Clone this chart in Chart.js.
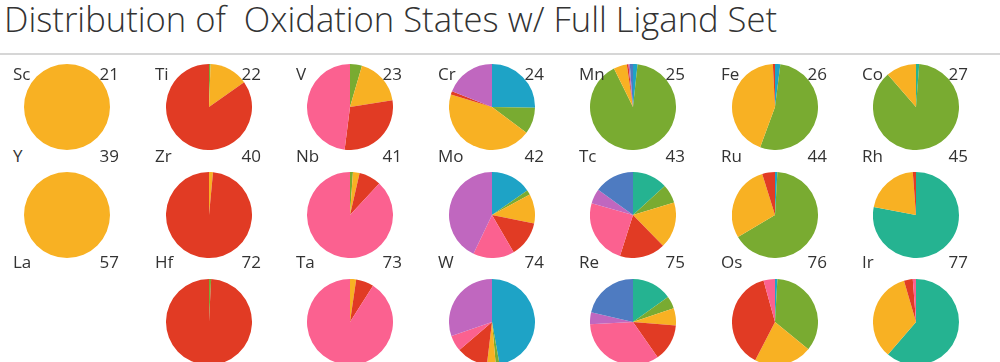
<!DOCTYPE html>
<html>
<head>
<meta charset="utf-8">
<script src="https://cdn.jsdelivr.net/npm/chart.js@4.4.1/dist/chart.umd.min.js"></script>
<style>
  html, body { margin: 0; padding: 0; background: #fff; }
  body { width: 1000px; height: 362px; overflow: hidden; position: relative; font-family: "Open Sans", "Noto Sans", sans-serif; color: #333; }
  #titulo { position: absolute; left: 4px; top: -5px; font-size: 34.6px; font-weight: 300; white-space: pre; color: #333; }
  #linha { position: absolute; left: 0; top: 53px; width: 1000px; height: 2px; background: #d6d6d6; }
  .celula { position: absolute; width: 86px; height: 86px; }
  .rotulo { position: absolute; font-size: 17px; line-height: 20px; white-space: nowrap; z-index: 2; color: #333; }
</style>
</head>
<body>
<div id="titulo">Distribution of  Oxidation States w/ Full Ligand Set</div>
<div id="linha"></div>
<script>
// elementos na ordem da grade (7 colunas x 3 linhas)
const elementos = ['Sc','Ti','V','Cr','Mn','Fe','Co', 'Y','Zr','Nb','Mo','Tc','Ru','Rh', 'La','Hf','Ta','W','Re','Os','Ir'];
const numeros = [21,22,23,24,25,26,27, 39,40,41,42,43,44,45, 57,72,73,74,75,76,77];

// estados de oxidacao, na ordem em que aparecem (sentido horario a partir do topo)
const estados = ['0','+1','+2','+3','+4','+5','+6','+7'];
const cores = ['#1ea3c6','#25b391','#79ab31','#f8b123','#e13b24','#fb6190','#c067bf','#4e7bc1'];

// % de compostos por estado, por elemento
const ox0 = [0,0,0,25.3,1.7,2,0, 0,0,0,15.3,0,0.9,0, 0,0,0,47.2,0,0.9,0];
const ox1 = [0,0,0,0,0,0,1.2, 0,0,0,0,13.2,0,78, 0,0,0,0,15.1,0,61.3];
const ox2 = [0,0.6,4.5,9.9,91,53.6,87.4, 0,0,1.1,1.8,7.1,65.6,0, 0,0.8,0,1.4,4.7,35,0];
const ox3 = [100,14.6,18,44.5,5,43.6,11.4, 100,1.5,2.5,11.1,17.4,28.7,20.8, 0,0,2.3,3.3,6.5,21.7,34.2];
const ox4 = [0,84.8,29.5,1.3,0.6,0.8,0, 0,98.5,8.3,13.4,17.2,4.8,1.2, 0,99.2,6.7,11.8,14,38.1,3.3];
const ox5 = [0,0,48,0,0,0,0, 0,0,88.1,15.5,24.5,0,0, 0,0,91,6,33.9,4.3,1.2];
const ox6 = [0,0,0,19,0.5,0,0, 0,0,0,42.9,5.6,0,0, 0,0,0,30.3,4.4,0,0];
const ox7 = [0,0,0,0,1.2,0,0, 0,0,0,0,15,0,0, 0,0,0,0,21.4,0,0];
const series = [ox0, ox1, ox2, ox3, ox4, ox5, ox6, ox7];

// layout da grade
const colCentro = [67, 209, 350, 492, 633, 775, 916];
const linCentro = [107, 215, 321.5];
const linRotulo = [64, 145.5, 251.5];
const raio = 43;

elementos.forEach((el, i) => {
  const col = i % 7, lin = Math.floor(i / 7);
  const cx = colCentro[col], cy = linCentro[lin];

  const simb = document.createElement('div');
  simb.className = 'rotulo';
  simb.textContent = el;
  simb.style.left = (cx - 54) + 'px';
  simb.style.top = linRotulo[lin] + 'px';
  document.body.appendChild(simb);

  const num = document.createElement('div');
  num.className = 'rotulo';
  num.textContent = numeros[i];
  num.style.right = (1000 - cx - 52) + 'px';
  num.style.top = linRotulo[lin] + 'px';
  document.body.appendChild(num);

  const caixa = document.createElement('div');
  caixa.className = 'celula';
  caixa.style.left = (cx - raio) + 'px';
  caixa.style.top = (cy - raio) + 'px';
  const canvas = document.createElement('canvas');
  canvas.width = raio * 2;
  canvas.height = raio * 2;
  caixa.appendChild(canvas);
  document.body.appendChild(caixa);

  const valores = series.map(s => s[i]);
  if (valores.every(v => v === 0)) return; // La sem dados

  new Chart(canvas.getContext('2d'), {
    type: 'pie',
    data: {
      labels: estados,
      datasets: [{
        data: valores,
        backgroundColor: cores,
        borderWidth: 0
      }]
    },
    options: {
      responsive: false,
      animation: false,
      layout: { padding: 0 },
      plugins: { legend: { display: false }, tooltip: { enabled: false } }
    }
  });
});
</script>
</body>
</html>
